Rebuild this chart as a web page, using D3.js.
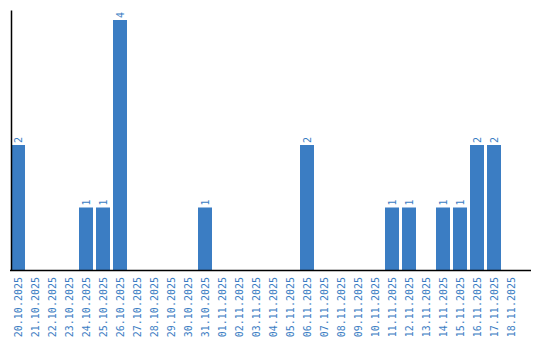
<!DOCTYPE html>
<html>
<head>
<meta charset="utf-8">
<script src="https://cdn.jsdelivr.net/npm/d3@7"></script>
<style>
  body { margin: 0; background: #fff; }
  text { font-family: "DejaVu Sans Mono", monospace; font-size: 10px; fill: #3b7dc3; }
</style>
</head>
<body>
<div id="chart"></div>
<script>
var dates = ["20.10.2025","21.10.2025","22.10.2025","23.10.2025","24.10.2025","25.10.2025",
  "26.10.2025","27.10.2025","28.10.2025","29.10.2025","30.10.2025","31.10.2025",
  "01.11.2025","02.11.2025","03.11.2025","04.11.2025","05.11.2025","06.11.2025",
  "07.11.2025","08.11.2025","09.11.2025","10.11.2025","11.11.2025","12.11.2025",
  "13.11.2025","14.11.2025","15.11.2025","16.11.2025","17.11.2025","18.11.2025"];
var counts = [2,0,0,0,1,1,4,0,0,0,0,1,0,0,0,0,0,2,0,0,0,0,1,1,0,1,1,2,2,0];

var data = dates.map(function(d, i) { return { date: d, count: counts[i] }; });

var width = 540;
var height = 340;
var svg = d3.select("#chart").append("svg").attr("width", width).attr("height", height);

var x = d3.scaleBand()
    .domain(dates)
    .range([11, 518])
    .paddingInner(3 / 17)
    .paddingOuter(0)
    .align(0);

var y = d3.scaleLinear()
    .domain([0, 4.16])
    .range([270, 10]);

// bars
svg.append("g").selectAll("rect")
    .data(data.filter(function(d) { return d.count > 0; }))
    .enter()
    .append("rect")
    .attr("x", function(d) { return x(d.date); })
    .attr("y", function(d) { return y(d.count); })
    .attr("width", x.bandwidth())
    .attr("height", function(d) { return y(0) - y(d.count); })
    .attr("fill", "#3b7dc3");

// value labels
svg.append("g").selectAll("text")
    .data(data.filter(function(d) { return d.count > 0; }))
    .enter()
    .append("text")
    .attr("transform", function(d) {
        return "translate(" + (x(d.date) + x.bandwidth() / 2 + 3.5) + "," + (y(d.count) - 2) + ") rotate(-90)";
    })
    .attr("text-anchor", "start")
    .text(function(d) { return d.count; });

// x axis
var xAxis = svg.append("g")
    .attr("transform", "translate(0,270)")
    .call(d3.axisBottom(x).tickSize(0).tickPadding(0));
xAxis.select(".domain").attr("d", "M10,0.5H531").attr("stroke", "#000").attr("stroke-width", 1.5);
xAxis.selectAll("text")
    .attr("font-family", null).attr("font-size", null).attr("fill", null)
    .attr("text-anchor", "end")
    .attr("dy", null)
    .attr("transform", "translate(3.5,7) rotate(-90)");

// y axis
var yAxis = svg.append("g")
    .attr("transform", "translate(11,0)")
    .call(d3.axisLeft(y).ticks(0).tickSizeOuter(0));
yAxis.select(".domain").attr("stroke", "#000").attr("stroke-width", 1.5);
</script>
</body>
</html>
